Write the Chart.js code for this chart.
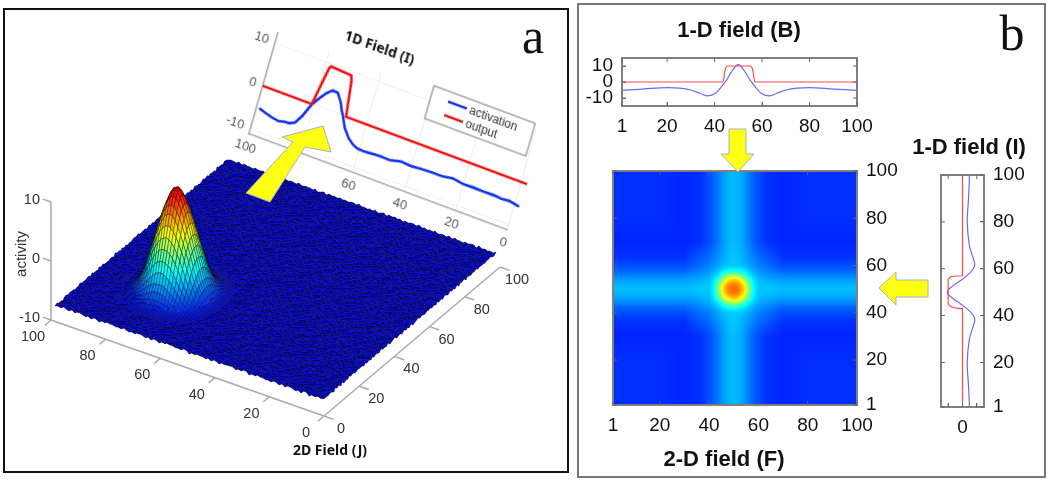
<!DOCTYPE html>
<html>
<head>
<meta charset="utf-8">
<title>Neural field</title>
<script src="https://cdn.jsdelivr.net/npm/chart.js@4"></script>
<style>
  html, body { margin: 0; padding: 0; background: #fff; }
  #page { position: relative; width: 1050px; height: 480px; overflow: hidden; font-family: "Liberation Sans", Arial, sans-serif; }
  #page canvas { position: absolute; }
  .frame { position: absolute; box-sizing: border-box; }
  .label { position: absolute; white-space: nowrap; transform: translate(-50%, -50%); color: #111; }
  .bold { font-weight: bold; font-size: 22px; }
  .letter { font-family: "Liberation Serif", serif; font-size: 50px; color: #111; }
  svg { position: absolute; left: 0; top: 0; }
</style>
</head>
<body>
<div id="page">
  <div class="frame" style="left:3px;top:8px;width:566px;height:465px;border:2px solid #111"></div>
  <div class="frame" style="left:577px;top:3px;width:469px;height:475px;border:2px solid #777"></div>
  <canvas id="chartI3d" width="330" height="170"></canvas>
  <canvas id="chartSurface" width="570" height="480" style="left:0;top:0"></canvas>
  <canvas id="chartB" width="302" height="106" style="left:577px;top:40px"></canvas>
  <canvas id="chartF" width="330" height="280" style="left:590px;top:160px"></canvas>
  <canvas id="chartI" width="130" height="290" style="left:920px;top:160px"></canvas>
  <svg width="1050" height="480">
    <g fill="#ffff14" stroke="#9fb4c4" stroke-width="1">
      <polygon points="246,193 293,142 282,137 323,126 331,152 305,147 270,202"/>
      <polygon points="729,129 746,129 746,154 754,154 738,172 721,154 729,154"/>
      <polygon points="879,288 896,272 896,280 928,280 928,297 896,297 896,305"/>
    </g>
  </svg>
  <div class="label letter" style="left:533px;top:36px">a</div>
  <div class="label letter" style="left:1012px;top:33px">b</div>
  <div class="label bold" style="left:739px;top:30px">1-D field (B)</div>
  <div class="label bold" style="left:969px;top:147px">1-D field (I)</div>
  <div class="label bold" style="left:724px;top:459px">2-D field (F)</div>
</div>
<script>
// ---- data ----
const fieldTicks = [1, 20, 40, 60, 80, 100];

// panel b, top: 1-D field (B)
const indexB =      [1, 10, 20, 30, 34, 37, 40, 42, 44, 45, 47, 49, 50, 51, 53, 55, 56, 58, 60, 63, 66, 70, 80, 90, 100];
const activationB = [-5.2, -4.4, -3.5, -5, -7.2, -8.7, -7.4, -4.6, -0.8, 1.2, 6, 10, 10.8, 10, 6, 1.2, -0.8, -4.6, -7.4, -8.7, -7.2, -5, -3.5, -4.4, -5.2];
const outputIndexB = [1, 43.5, 44.5, 45.5, 55, 56, 57, 100];
const outputB =      [0, 0, 8, 10, 10, 8, 0, 0];

// panel b, right: 1-D field (I)
const indexI =      [1, 10, 20, 30, 35, 38, 40, 42, 44, 45, 47, 49, 50, 51, 53, 55, 56, 58, 60, 62, 65, 70, 80, 90, 100];
const activationI = [-4.9, -4.2, -3.3, -4.8, -7.2, -8.6, -7.6, -4.8, -1, 1.2, 6, 10, 10.6, 10, 6, 1.2, -1, -4.8, -7.6, -8.6, -7.2, -4.8, -3.3, -4.2, -4.9];
const outputIndexI = [1, 43, 44, 45, 55.5, 56.5, 57, 100];
const outputI =      [0, 0, 8.5, 10, 10, 8.5, 0, 0];

// panel b, centre: 2-D field (F), colour level (0-100 of the colour map) at the grid nodes
const nodesF = [1, 20, 30, 36, 40, 42, 44, 46, 48, 50, 52, 54, 56, 58, 60, 64, 70, 80, 100];
const levelsF = [
  [17,17,16,17,20,22,25,28,30,31,30,28,25,22,20,17,16,17,17],
  [17,17,16,17,20,22,25,28,30,31,30,28,25,22,20,17,16,17,17],
  [16,16,16,17,20,22,25,28,30,31,30,28,25,22,20,17,16,16,16],
  [17,17,17,21,23,25,27,29,31,32,31,29,27,25,23,21,17,17,17],
  [20,20,20,23,25,27,29,31,32,32,32,31,29,27,25,23,20,20,20],
  [22,22,22,25,27,29,32,35,37,38,37,35,32,29,27,25,22,22,22],
  [25,25,25,27,29,32,36,44,50,53,50,44,36,32,29,27,25,25,25],
  [28,28,28,29,31,35,44,56,65,68,65,56,44,35,31,29,28,28,28],
  [30,30,30,31,32,37,50,65,73,76,73,65,50,37,32,31,30,30,30],
  [31,31,31,32,32,38,53,68,76,78,76,68,53,38,32,32,31,31,31],
  [30,30,30,31,32,37,50,65,73,76,73,65,50,37,32,31,30,30,30],
  [28,28,28,29,31,35,44,56,65,68,65,56,44,35,31,29,28,28,28],
  [25,25,25,27,29,32,36,44,50,53,50,44,36,32,29,27,25,25,25],
  [22,22,22,25,27,29,32,35,37,38,37,35,32,29,27,25,22,22,22],
  [20,20,20,23,25,27,29,31,32,32,32,31,29,27,25,23,20,20,20],
  [17,17,17,21,23,25,27,29,31,32,31,29,27,25,23,21,17,17,17],
  [16,16,16,17,20,22,25,28,30,31,30,28,25,22,20,17,16,16,16],
  [17,17,16,17,20,22,25,28,30,31,30,28,25,22,20,17,16,17,17],
  [17,17,16,17,20,22,25,28,30,31,30,28,25,22,20,17,16,17,17]
];

// panel a, back wall: 1D Field (I)
const wallTicks = [0, 20, 40, 60, 80, 100];
const wallIndex =      [99, 97, 94, 91, 89, 87, 85, 83, 81, 79, 77, 75, 73, 71, 70, 69, 67, 64.5, 62.5, 60.5, 58, 56, 52, 48, 44, 40, 36, 32, 28, 24, 20, 16, 12, 8, 5, 2, -2];
const wallActivation = [-5, -5.4, -5.9, -6.2, -5.9, -5.8, -5.2, -3.1, -0.1, 1.7, 3.4, 4.5, 4.4, 2.6, 1.2, 0.1, -2.5, -4.4, -5.3, -5.8, -5.9, -5.8, -5.6, -5.7, -5.1, -5.3, -5.1, -5, -5, -4.6, -5, -4.9, -5, -4.9, -5.1, -4.9, -5.4];
const wallOutputIndex = [100, 81, 78.5, 78, 70, 69.4, 67.7, -2.5];
const wallOutput =      [0, 0, 8.9, 9.4, 9.1, 8, 0, 0];

// panel a, surface: activity against distance from the bump, then the ripple on the floor
const surfaceTicks = [0, 20, 40, 60, 80, 100];
const activityTicks = [-10, 0, 10];
const bumpJ = 72, bumpI = 28;
const bumpRadius =   [0, 1, 2, 4, 6, 8, 10, 12, 14, 16, 18, 22];
const bumpActivity = [10, 9.8, 9, 6.4, 2.9, -0.6, -4, -6.2, -7.2, -7.5, -7.6, -7.6];
const floorActivity = -7.6;
const floorRipple = [
  [ 0.10,-0.15, 0.20,-0.05, 0.00,-0.20, 0.05, 0.15,-0.10, 0.20,-0.05, 0.05,-0.10],
  [-0.20, 0.05,-0.10, 0.15,-0.15, 0.10,-0.05,-0.20, 0.15,-0.05, 0.10,-0.20, 0.15],
  [ 0.15, 0.10, 0.05,-0.20, 0.05,-0.10, 0.20, 0.05,-0.15, 0.10,-0.05, 0.15, 0.00],
  [-0.05, 0.20,-0.15, 0.10,-0.05, 0.20,-0.15, 0.10, 0.05,-0.20, 0.15,-0.05,-0.15],
  [ 0.20,-0.10, 0.05,-0.15, 0.20, 0.00,-0.10, 0.20,-0.05, 0.15,-0.10, 0.10, 0.20],
  [-0.15, 0.10,-0.20,-0.05,-0.10, 0.15, 0.05,-0.20, 0.10, 0.00, 0.20,-0.15, 0.05],
  [ 0.05,-0.20, 0.15, 0.05,-0.15, 0.10,-0.20, 0.15,-0.10, 0.20,-0.05, 0.15,-0.20],
  [ 0.15, 0.05,-0.10, 0.20,-0.20, 0.05, 0.15,-0.05, 0.20,-0.15, 0.10,-0.10, 0.10],
  [-0.10, 0.20, 0.00,-0.15, 0.10,-0.20, 0.10, 0.20,-0.15, 0.05,-0.20, 0.20,-0.05],
  [ 0.20,-0.15, 0.10, 0.15,-0.05, 0.20,-0.15, 0.00, 0.10,-0.20, 0.15,-0.05, 0.15],
  [-0.05, 0.10,-0.20, 0.05, 0.20,-0.10, 0.15,-0.20, 0.05, 0.15,-0.10, 0.20,-0.15]
];

const RED = '#ff4a4a', BLUE = '#6a6aff';
Chart.defaults.animation = false;
Chart.defaults.responsive = false;
Chart.defaults.plugins.legend.display = false;
Chart.defaults.plugins.tooltip.enabled = false;
Chart.defaults.font.family = '"Liberation Sans", Arial, sans-serif';

function pairs(xs, ys) { return xs.map((v, k) => ({ x: v, y: ys[k] })); }
function swapped(xs, ys) { return xs.map((v, k) => ({ x: ys[k], y: v })); }
function clamp01(v) { return Math.max(0, Math.min(1, v)); }
function jet(n) {
  return [clamp01(1.5 - Math.abs(4 * n - 3)), clamp01(1.5 - Math.abs(4 * n - 2)), clamp01(1.5 - Math.abs(4 * n - 1))]
    .map(c => Math.round(c * 255));
}
function lookup(xs, ys, v) {
  let k = 0;
  while (k < xs.length - 2 && v > xs[k + 1]) k++;
  const t = clamp01((v - xs[k]) / (xs[k + 1] - xs[k]));
  return [k, t, ys ? ys[k] + (ys[k + 1] - ys[k]) * t : 0];
}
// fix the axis band and stop the label overhang from moving the plot
function fixBand(s, size) {
  if (s.isHorizontal()) s.height = size; else s.width = size;
  s.paddingLeft = s.paddingRight = s.paddingTop = s.paddingBottom = 0;
}

// matlab style axis: box round the plot, ticks inside
function fieldScale(position, min, max, ticks, band, extra) {
  return Object.assign({
    type: 'linear', position, min, max,
    afterBuildTicks: s => { s.ticks = ticks.map(v => ({ value: v })); },
    afterFit: s => fixBand(s, band),
    border: { color: '#808080', width: 2 },
    grid: { drawOnChartArea: false, tickLength: -4, tickColor: '#666', tickWidth: 1 },
    ticks: { color: '#111', font: { size: 19 }, padding: 13, maxRotation: 0, autoSkip: false }
  }, extra);
}
const boxPlugin = {
  id: 'box',
  afterDatasetsDraw(chart) {
    const { ctx, chartArea: a, scales: { x, y } } = chart;
    ctx.save();
    ctx.strokeStyle = '#808080';
    ctx.lineWidth = 2;
    ctx.strokeRect(a.left, a.top, a.width, a.height);
    ctx.lineWidth = 1;
    ctx.strokeStyle = '#666';
    ctx.beginPath();
    x.ticks.forEach(t => {
      const px = x.getPixelForValue(t.value);
      ctx.moveTo(px, a.top); ctx.lineTo(px, a.top + 4);
      ctx.moveTo(px, a.bottom); ctx.lineTo(px, a.bottom - 4);
    });
    y.ticks.forEach(t => {
      const py = y.getPixelForValue(t.value);
      ctx.moveTo(a.left, py); ctx.lineTo(a.left + 4, py);
      ctx.moveTo(a.right, py); ctx.lineTo(a.right - 4, py);
    });
    ctx.stroke();
    ctx.restore();
  }
};

function thinLine(data, color) {
  return { data, borderColor: color, borderWidth: 1.2, pointRadius: 0, showLine: true, tension: 0.3, cubicInterpolationMode: 'monotone' };
}

// 1-D field (B)
new Chart(document.getElementById('chartB'), {
  type: 'scatter',
  data: { datasets: [
    Object.assign(thinLine(pairs(outputIndexB, outputB), RED), { tension: 0 }),
    thinLine(pairs(indexB, activationB), BLUE)
  ] },
  options: {
    layout: { padding: { top: 18, right: 22 } },
    scales: {
      x: fieldScale('bottom', 1, 100, fieldTicks, 40),
      y: fieldScale('left', -15, 15, [-10, 0, 10], 45)
    }
  },
  plugins: [boxPlugin]
});

// 1-D field (I)
new Chart(document.getElementById('chartI'), {
  type: 'scatter',
  data: { datasets: [
    Object.assign(thinLine(swapped(outputIndexI, outputI), RED), { tension: 0 }),
    Object.assign(thinLine(swapped(indexI, activationI), BLUE), { cubicInterpolationMode: 'default', tension: 0.3 })
  ] },
  options: {
    layout: { padding: { top: 15, left: 21 } },
    scales: {
      x: fieldScale('bottom', -15, 15, [-10, 0, 10], 43, {
        reverse: true,
        ticks: { color: '#111', font: { size: 19 }, padding: 13, maxRotation: 0, autoSkip: false, callback: v => (v === 0 ? '0' : '') }
      }),
      y: fieldScale('right', 1, 100, fieldTicks, 66)
    }
  },
  plugins: [boxPlugin]
});

// 2-D field (F), smooth image built from the node levels, placed with the chart's scales
const heatPlugin = {
  id: 'heat',
  beforeDatasetsDraw(chart) {
    const { ctx, chartArea: a, scales: { x, y } } = chart;
    const w = Math.round(a.width), h = Math.round(a.height);
    const off = document.createElement('canvas');
    off.width = w; off.height = h;
    const octx = off.getContext('2d');
    const img = octx.createImageData(w, h);
    for (let py = 0; py < h; py++) {
      const [r, tr] = lookup(nodesF, null, y.getValueForPixel(a.top + py + 0.5));
      for (let px = 0; px < w; px++) {
        const [c, tc] = lookup(nodesF, null, x.getValueForPixel(a.left + px + 0.5));
        const low = levelsF[r][c] + (levelsF[r][c + 1] - levelsF[r][c]) * tc;
        const high = levelsF[r + 1][c] + (levelsF[r + 1][c + 1] - levelsF[r + 1][c]) * tc;
        const rgb = jet((low + (high - low) * tr) / 100);
        const o = (py * w + px) * 4;
        img.data[o] = rgb[0]; img.data[o + 1] = rgb[1]; img.data[o + 2] = rgb[2]; img.data[o + 3] = 255;
      }
    }
    octx.putImageData(img, 0, 0);
    ctx.drawImage(off, a.left, a.top);
  }
};
new Chart(document.getElementById('chartF'), {
  type: 'scatter',
  data: { datasets: [{ data: nodesF.map(v => ({ x: v, y: v })), pointRadius: 0 }] },
  options: {
    layout: { padding: { top: 11, left: 23 } },
    scales: {
      x: fieldScale('bottom', 1, 100, fieldTicks, 35),
      y: fieldScale('right', 1, 100, fieldTicks, 63)
    }
  },
  plugins: [heatPlugin, boxPlugin]
});

// 1D Field (I) of panel a: an ordinary chart, sheared onto the back wall with css
const wallCanvas = document.getElementById('chartI3d');
const wallLeft = 40, wallBottom = 135;
const wallMatrix = [258 / 275, 96 / 275, -29 / 105, 101 / 105];
wallCanvas.style.transformOrigin = '0 0';
wallCanvas.style.left = '0';
wallCanvas.style.top = '0';
wallCanvas.style.transform = 'matrix(' + wallMatrix.join(',') + ',' +
  (249 - wallMatrix[0] * wallLeft - wallMatrix[2] * wallBottom) + ',' +
  (134 - wallMatrix[1] * wallLeft - wallMatrix[3] * wallBottom) + ')';

const wallLegend = {
  id: 'wallLegend',
  afterDatasetsDraw(chart) {
    const { ctx, chartArea: a } = chart;
    const left = a.left + 165, top = a.bottom - 110;
    ctx.save();
    ctx.fillStyle = '#fff';
    ctx.strokeStyle = '#777';
    ctx.lineWidth = 1;
    ctx.fillRect(left, top, 108, 34);
    ctx.strokeRect(left, top, 108, 34);
    ctx.lineWidth = 2.5;
    ctx.strokeStyle = '#1030f0';
    ctx.beginPath(); ctx.moveTo(left + 18, top + 10); ctx.lineTo(left + 38, top + 10); ctx.stroke();
    ctx.strokeStyle = '#f01010';
    ctx.beginPath(); ctx.moveTo(left + 18, top + 24); ctx.lineTo(left + 38, top + 24); ctx.stroke();
    ctx.fillStyle = '#333';
    ctx.font = '12px "Liberation Sans", Arial, sans-serif';
    ctx.textBaseline = 'middle';
    ctx.fillText('activation', left + 41, top + 11);
    ctx.fillText('output', left + 41, top + 25);
    ctx.font = 'bold 14px "Noto Sans", sans-serif';
    ctx.fillStyle = '#111';
    ctx.textAlign = 'center';
    ctx.fillText('1D Field (I)', a.left + 102, a.bottom - 126);
    ctx.restore();
  }
};
new Chart(wallCanvas, {
  type: 'scatter',
  data: { datasets: [
    { data: pairs(wallOutputIndex, wallOutput), borderColor: '#f01010', borderWidth: 2.6, pointRadius: 0, showLine: true, clip: false },
    { data: pairs(wallIndex, wallActivation), borderColor: '#1030f0', borderWidth: 2.6, pointRadius: 0, showLine: true, clip: false }
  ] },
  options: {
    layout: { padding: { top: 30, right: 15 } },
    scales: {
      x: {
        type: 'linear', min: 0, max: 100, reverse: true,
        afterBuildTicks: s => { s.ticks = wallTicks.map(v => ({ value: v })); },
        afterFit: s => fixBand(s, 35),
        border: { color: '#aaa', width: 1.5 },
        grid: { color: '#eee', drawTicks: false },
        // the 80 is not to be seen in the figure, the arrow sits on it
        ticks: { color: '#555', font: { size: 13 }, padding: 6, maxRotation: 0, autoSkip: false, callback: v => (v === 80 ? '' : v) }
      },
      y: {
        type: 'linear', min: -11.2, max: 12.3,
        afterBuildTicks: s => { s.ticks = [-10, 0, 10].map(v => ({ value: v })); },
        afterFit: s => fixBand(s, 40),
        border: { color: '#aaa', width: 1.5 },
        grid: { color: '#f2f2f2', drawTicks: false },
        ticks: { color: '#555', font: { size: 13 }, padding: 7 }
      }
    }
  },
  plugins: [wallLegend]
});

// panel a: view of the surface, field coordinates to the plane of the page
function project(j, i, z) {
  return { x: 324 - 2.73 * j + 1.76 * i, y: 416 - 0.96 * j - 1.49 * i - 5.9 * (z + 10) };
}
function bumpDistance(j, i) { return Math.hypot(j - bumpJ, i - bumpI); }
function activityAt(j, i) {
  if (bumpDistance(j, i) < 18) return lookup(bumpRadius, bumpActivity, bumpDistance(j, i))[2];
  return floorActivity + floorRipple[j % floorRipple.length][i % floorRipple[0].length];
}
const axisTrace = [];
function segment(a, b) { axisTrace.push(a, b, { x: NaN, y: NaN }); }
segment(project(0, 0, -10), project(100, 0, -10));
segment(project(0, 0, -10), project(0, 100, -10));
segment(project(100, 0, -10), project(100, 0, 10));
surfaceTicks.forEach(t => {
  segment(project(t, 0, -10), project(t, -3.5, -10));
  segment(project(0, t, -10), project(-3.5, t, -10));
});
activityTicks.forEach(t => segment(project(100, 0, t), project(103, 0, t)));

const surfacePlugin = {
  id: 'surface',
  afterDatasetsDraw(chart) {
    const { ctx, scales: { x, y } } = chart;
    // floor cells are snapped to whole pixels, which gives the grainy black and blue of the mesh
    const place = (j, i, snap) => {
      const p = project(j, i, activityAt(j, i));
      const px = x.getPixelForValue(p.x), py = y.getPixelForValue(p.y);
      return snap ? [Math.round(px), Math.round(py)] : [px, py];
    };
    ctx.save();
    for (let j = 98; j >= 1; j--) {
      for (let i = 98; i >= 1; i--) {
        const snap = bumpDistance(j + 0.5, i + 0.5) > 13;
        const a = place(j, i, snap), b = place(j + 1, i, snap), c = place(j + 1, i + 1, snap), d = place(j, i + 1, snap);
        const z = (activityAt(j, i) + activityAt(j + 1, i) + activityAt(j + 1, i + 1) + activityAt(j, i + 1)) / 4;
        const rgb = jet(0.13 + (z - floorActivity) * 0.0444);
        ctx.fillStyle = 'rgb(' + rgb.join(',') + ')';
        ctx.lineWidth = 0.6;
        ctx.strokeStyle = snap ? 'rgba(0,0,0,0.7)' : 'rgba(0,0,0,0.6)';
        ctx.beginPath();
        ctx.moveTo(a[0], a[1]); ctx.lineTo(b[0], b[1]); ctx.lineTo(c[0], c[1]); ctx.lineTo(d[0], d[1]);
        ctx.closePath();
        ctx.fill();
        ctx.stroke();
      }
    }
    ctx.fillStyle = '#333';
    ctx.font = '14.5px "Liberation Sans", Arial, sans-serif';
    ctx.textAlign = 'center';
    ctx.textBaseline = 'middle';
    surfaceTicks.forEach(t => {
      const pj = project(t, 0, -10), pi = project(0, t, -10);
      ctx.fillText(t, x.getPixelForValue(pj.x) - 18, y.getPixelForValue(pj.y) + 17);
      ctx.fillText(t, x.getPixelForValue(pi.x) + 17, y.getPixelForValue(pi.y) + 13);
    });
    ctx.textAlign = 'right';
    activityTicks.forEach(t => {
      const pz = project(100, 0, t);
      ctx.fillText(t, x.getPixelForValue(pz.x) - 11, y.getPixelForValue(pz.y) - 2);
    });
    ctx.save();
    ctx.textAlign = 'center';
    ctx.font = '15px "Liberation Sans", Arial, sans-serif';
    ctx.translate(x.getPixelForValue(22), y.getPixelForValue(254));
    ctx.rotate(-Math.PI / 2);
    ctx.fillText('activity', 0, 0);
    ctx.restore();
    ctx.textAlign = 'center';
    ctx.font = 'bold 14px "Noto Sans", sans-serif';
    ctx.fillStyle = '#111';
    ctx.fillText('2D Field (J)', x.getPixelForValue(330), y.getPixelForValue(451));
    ctx.restore();
  }
};
new Chart(document.getElementById('chartSurface'), {
  type: 'scatter',
  data: { datasets: [{ data: axisTrace, borderColor: '#aaa', borderWidth: 1.5, pointRadius: 0, showLine: true, spanGaps: false }] },
  options: {
    scales: {
      x: { type: 'linear', min: 0, max: 570, display: false },
      y: { type: 'linear', min: 0, max: 480, reverse: true, display: false }
    }
  },
  plugins: [surfacePlugin]
});
</script>
</body>
</html>
